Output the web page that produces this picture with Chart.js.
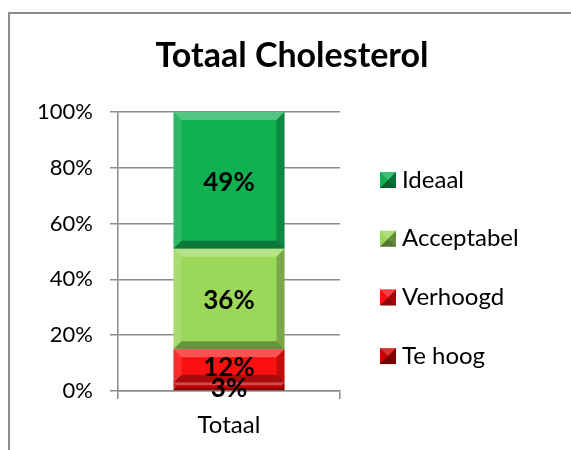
<!DOCTYPE html>
<html>
<head>
<meta charset="utf-8">
<script src="https://cdn.jsdelivr.net/npm/chart.js@4"></script>
<style>
  html, body { margin: 0; padding: 0; background: #fff; }
  #frame { position: absolute; left: 8px; top: 12px; width: 600px; height: 460px;
           border-left: 2px solid #8c8c8c; border-top: 2px solid #8c8c8c; }
  #wrap { position: absolute; left: 0; top: 0; width: 571px; height: 450px; }
</style>
</head>
<body>
<div id="frame"></div>
<div id="wrap"><canvas id="chol"></canvas></div>
<script>
// Gegevens
const categories = ['Totaal'];
const teHoog = [3];
const verhoogd = [12];
const acceptabel = [36];
const ideaal = [49];
const yTicks = [0, 20, 40, 60, 80, 100];
const chartTitle = 'Totaal Cholesterol';

const FONT = 'Lato, "Open Sans", sans-serif';
const GRID = '#8c8c8c';

// Bevel effect on the stacked bars + percentage labels
const bevelPlugin = {
    id: 'bevel',
    afterDatasetsDraw(chart) {
        const ctx = chart.ctx;
        const poly = (pts, fill) => {
            ctx.beginPath();
            ctx.moveTo(pts[0][0], pts[0][1]);
            pts.slice(1).forEach(p => ctx.lineTo(p[0], p[1]));
            ctx.closePath();
            ctx.fillStyle = fill;
            ctx.fill();
        };
        chart.data.datasets.forEach((ds, i) => {
            const meta = chart.getDatasetMeta(i);
            meta.data.forEach(bar => {
                const l = bar.x - bar.width / 2, r = bar.x + bar.width / 2;
                const t = Math.min(bar.y, bar.base), b = Math.max(bar.y, bar.base);
                const s = Math.min(8, (b - t) / 3);
                ctx.save();
                poly([[l, t], [r, t], [r - s, t + s], [l + s, t + s]], 'rgba(255,255,255,0.28)');
                poly([[l, t], [l + s, t + s], [l + s, b - s], [l, b]], 'rgba(255,255,255,0.12)');
                poly([[r, t], [r, b], [r - s, b - s], [r - s, t + s]], 'rgba(0,0,0,0.22)');
                poly([[l, b], [l + s, b - s], [r - s, b - s], [r, b]], 'rgba(0,0,0,0.32)');
                ctx.restore();
            });
        });
        // labels
        chart.data.datasets.forEach((ds, i) => {
            const meta = chart.getDatasetMeta(i);
            meta.data.forEach((bar, j) => {
                const cy = (bar.y + bar.base) / 2;
                ctx.save();
                ctx.font = 'bold 26px ' + FONT;
                ctx.fillStyle = '#000';
                ctx.textAlign = 'center';
                ctx.textBaseline = 'middle';
                ctx.fillText(ds.data[j] + '%', bar.x, cy + 2);
                ctx.restore();
            });
        });
    }
};

// Title + legend at the right, top item = last dataset
const sidePlugin = {
    id: 'sideLegend',
    afterDraw(chart) {
        const ctx = chart.ctx;
        ctx.save();
        ctx.font = 'bold 34px ' + FONT;
        ctx.fillStyle = '#000';
        ctx.textAlign = 'center';
        ctx.textBaseline = 'alphabetic';
        ctx.fillText(chartTitle, 292, 67);
        ctx.restore();

        const x0 = chart.chartArea.right + 40;
        const y0 = 180;
        const step = 58.7;
        const items = chart.data.datasets.slice().reverse();
        items.forEach((ds, k) => {
            const cy = y0 + k * step;
            const bx = x0, by = cy - 8, sz = 16;
            ctx.save();
            ctx.fillStyle = ds.backgroundColor;
            ctx.fillRect(bx, by, sz, sz);
            const tri = (pts, fill) => {
                ctx.beginPath();
                ctx.moveTo(pts[0][0], pts[0][1]);
                pts.slice(1).forEach(p => ctx.lineTo(p[0], p[1]));
                ctx.closePath();
                ctx.fillStyle = fill;
                ctx.fill();
            };
            const c = [bx + sz / 2, by + sz / 2];
            tri([[bx, by], [bx + sz, by], c], 'rgba(255,255,255,0.2)');
            tri([[bx + sz, by], [bx + sz, by + sz], c], 'rgba(0,0,0,0.35)');
            tri([[bx, by + sz], [bx + sz, by + sz], c], 'rgba(0,0,0,0.45)');
            ctx.font = '24px ' + FONT;
            ctx.fillStyle = '#000';
            ctx.textAlign = 'left';
            ctx.textBaseline = 'middle';
            ctx.fillText(ds.label, bx + sz + 6, cy);
            ctx.restore();
        });
    }
};

const ctx = document.getElementById('chol').getContext('2d');
const chart = new Chart(ctx, {
    type: 'bar',
    data: {
        labels: categories,
        datasets: [
            { label: 'Te hoog', data: teHoog, backgroundColor: '#c80000' },
            { label: 'Verhoogd', data: verhoogd, backgroundColor: '#fa1010' },
            { label: 'Acceptabel', data: acceptabel, backgroundColor: '#9bd85a' },
            { label: 'Ideaal', data: ideaal, backgroundColor: '#0fb153' }
        ]
    },
    options: {
        responsive: true,
        maintainAspectRatio: false,
        animation: false,
        layout: { padding: { left: 8, right: 231, top: 112, bottom: 0 } },
        datasets: {
            bar: { categoryPercentage: 1, barPercentage: 0.5, borderWidth: 0 }
        },
        scales: {
            x: {
                stacked: true,
                offset: true,
                grid: { offset: true, drawOnChartArea: false, tickLength: 8, color: GRID, lineWidth: 1.5 },
                border: { color: GRID, width: 1.5 },
                ticks: { color: '#000', font: { family: FONT, size: 24 }, padding: 12 },
                afterFit: s => { s.height = 59; }
            },
            y: {
                stacked: true,
                min: 0,
                max: 100,
                afterBuildTicks: s => { s.ticks = yTicks.map(v => ({ value: v })); },
                grid: { color: GRID, lineWidth: 1.5, tickLength: 8 },
                border: { color: GRID, width: 1.5 },
                ticks: {
                    color: '#000',
                    font: { family: FONT, size: 22 },
                    padding: 17,
                    callback: v => v + '%'
                },
                afterFit: s => { s.width = 110; }
            }
        },
        plugins: {
            legend: { display: false },
            tooltip: { enabled: false },
            title: { display: false }
        }
    },
    plugins: [bevelPlugin, sidePlugin]
});
</script>
</body>
</html>
